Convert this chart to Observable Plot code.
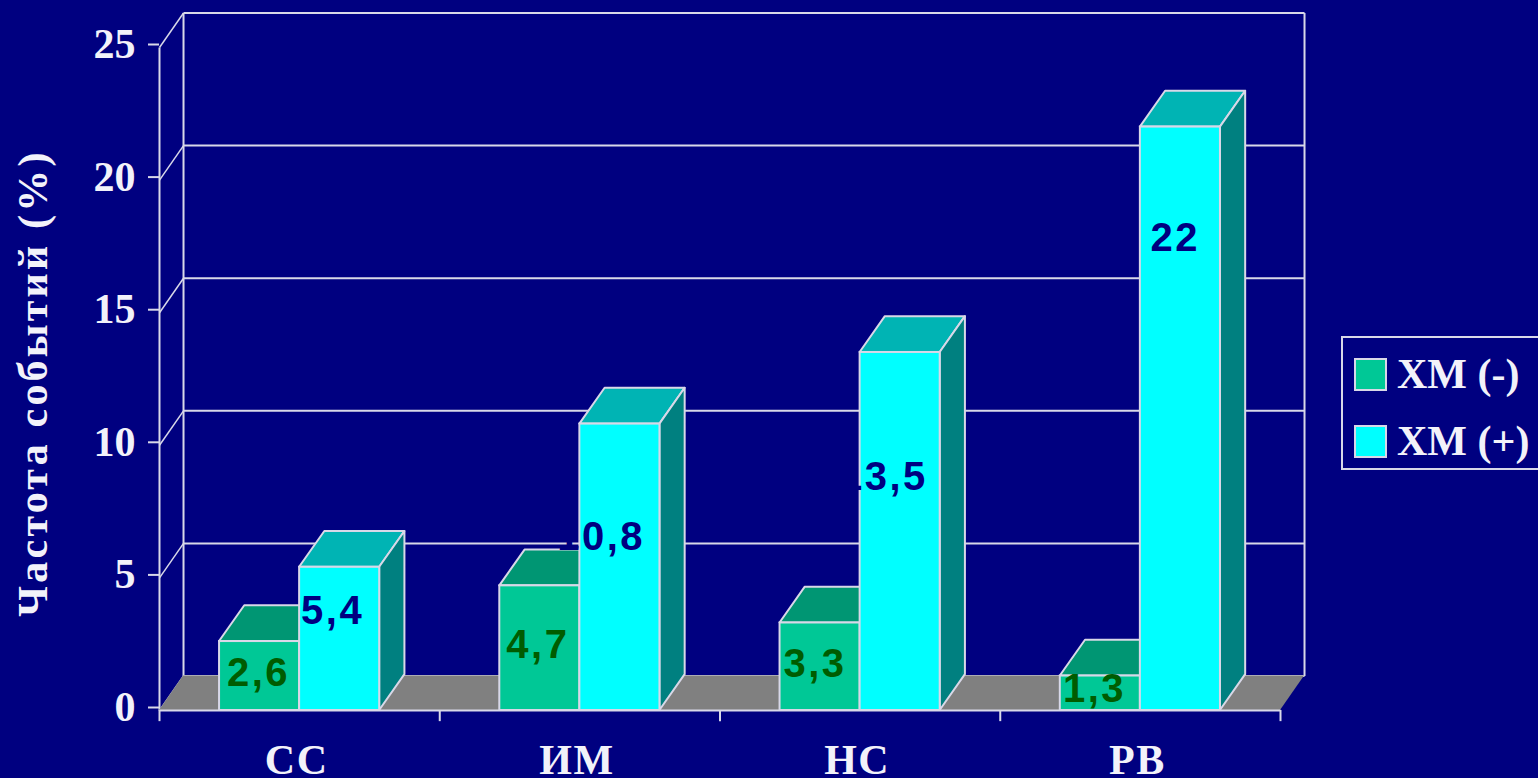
<!DOCTYPE html>
<html lang="ru">
<head>
<meta charset="utf-8">
<title>Частота событий</title>
<script src="https://cdn.jsdelivr.net/npm/d3@7"></script>
<script src="https://cdn.jsdelivr.net/npm/@observablehq/plot@0.6"></script>
<style>
  html, body { margin: 0; padding: 0; background: #000080; overflow: hidden; }
  #chart { position: relative; width: 1538px; height: 778px; }
  #chart svg { display: block; }
  .axis-title { letter-spacing: 3.2px; }
  .category-label { letter-spacing: 1.5px; }
  .value-label { letter-spacing: 2.5px; }
  .legend { position: absolute; left: 1341px; top: 336px; width: 197px; height: 134px; box-sizing: border-box;
            border: 2px solid #d8d8e8; border-right: none; color: #f2f2fa;
            font: bold 42px "Liberation Serif", serif; }
  .legend-row { position: absolute; left: 11px; display: flex; align-items: center; white-space: nowrap; height: 34px; }
  .legend-row i { display: block; width: 29px; height: 29px; border: 2px solid #d8d8e8; margin-right: 10px; }
</style>
</head>
<body>
<div id="chart"></div>
<script>
// Event rate (%) by outcome, without and with the ХМ factor
const categories = ["СС", "ИМ", "НС", "РВ"];
const seriesNames = ["ХМ (-)", "ХМ (+)"];
const valuesWithout = [2.6, 4.7, 3.3, 1.3];
const valuesWith = [5.4, 10.8, 13.5, 22];
const valueLabelsWithout = ["2,6", "4,7", "3,3", "1,3"];
const valueLabelsWith = ["5,4", "10,8", "13,5", "22"];
const yTicks = [0, 5, 10, 15, 20, 25];

// Where the value labels sit inside their bars: height in value units,
// sideways shift from the bar's centre in category units
const labelHeightsWithout = [1.4, 2.45, 1.75, 0.8];
const labelHeightsWith = [3.75, 6.55, 8.8, 17.8];
const labelShiftsWithout = [-0.004, -0.007, -0.018, -0.021];
const labelShiftsWith = [-0.025, -0.067, -0.058, -0.018];

// Oblique projection: depth expressed in the units of each scale
const depthX = 0.0857;
const depthY = 1.3;
const barDepthX = 0.09;
const barDepthY = 1.35;
// Each category slot holds two bars with a gap of one and a half bars
const barWidth = 1 / 3.5;
const barOffset = 0.75 * barWidth;
// Length of the category ticks below the axis, in value units
const tickDrop = 0.42;

const colors = {front: ["#00c896", "#00ffff"], top: ["#009673", "#00b4b4"], side: ["#007a5e", "#008080"]};
const lineColor = "#d8d8e8";
const textColor = "#f2f2fa";
const serif = "Liberation Serif";
const sans = "Liberation Sans";

const bars = categories.flatMap((category, i) => [
  {category, series: 0, value: valuesWithout[i], label: valueLabelsWithout[i],
   labelY: labelHeightsWithout[i], labelShift: labelShiftsWithout[i],
   x0: i + barOffset, x1: i + barOffset + barWidth},
  {category, series: 1, value: valuesWith[i], label: valueLabelsWith[i],
   labelY: labelHeightsWith[i], labelShift: labelShiftsWith[i],
   x0: i + barOffset + barWidth, x1: i + barOffset + 2 * barWidth}
]).map(d => ({...d, name: seriesNames[d.series], id: `${d.category}-${d.series}`}));

// Every parallelogram is an area between two edges, one row per end of the edge pair
const topFaces = bars.flatMap(d => [
  {id: d.id, series: d.series, ax: d.x0, ay: d.value, bx: d.x1, by: d.value},
  {id: d.id, series: d.series, ax: d.x0 + barDepthX, ay: d.value + barDepthY, bx: d.x1 + barDepthX, by: d.value + barDepthY}
]);
const sideFaces = bars.flatMap(d => [
  {id: d.id, series: d.series, ax: d.x1, ay: d.value, bx: d.x1, by: 0},
  {id: d.id, series: d.series, ax: d.x1 + barDepthX, ay: d.value + barDepthY, bx: d.x1 + barDepthX, by: barDepthY}
]);
const slots = categories.length;
const floor = [
  {ax: 0, ay: 0, bx: slots, by: 0},
  {ax: depthX, ay: depthY, bx: slots + depthX, by: depthY}
];

function face(data, fill) {
  return Plot.area(data, {x1: "ax", y1: "ay", x2: "bx", y2: "by", z: "id", fill, stroke: lineColor, strokeWidth: 2});
}

// The labels of the second series share the background's navy, so any part
// of them that falls outside the cyan bar melts into the background
const bodyLabels = series => Plot.text(bars.filter(d => d.series === series), {
  x: d => (d.x0 + d.x1) / 2 + d.labelShift,
  y: "labelY",
  text: "label",
  fill: series ? "#000080" : "#005c00",
  fontFamily: sans, fontWeight: "bold", fontSize: 40, className: "value-label"
});

const plot = Plot.plot({
  width: 1538,
  height: 778,
  marginLeft: 159,
  marginRight: 258,
  marginTop: 47,
  marginBottom: 68,
  style: {background: "#000080", overflow: "visible"},
  x: {domain: [0, slots], axis: null},
  y: {domain: [0, 25]},
  color: {domain: seriesNames, range: colors.front},
  marks: [
    // Back wall and its gridlines, each with a diagonal run to the axis
    Plot.link(yTicks, {x1: depthX, x2: slots + depthX, y1: d => d + depthY, y2: d => d + depthY, stroke: lineColor, strokeWidth: 2}),
    Plot.link(yTicks, {x1: 0, x2: depthX, y1: d => d, y2: d => d + depthY, stroke: lineColor, strokeWidth: 1.5}),
    Plot.link([depthX, slots + depthX], {x1: d => d, x2: d => d, y1: depthY, y2: 25 + depthY, stroke: lineColor, strokeWidth: 2}),
    Plot.link([0], {x1: 0, x2: 0, y1: 0, y2: 25, stroke: lineColor, strokeWidth: 2}),

    // Floor
    Plot.area(floor, {x1: "ax", y1: "ay", x2: "bx", y2: "by", fill: "#808080"}),
    Plot.link([0], {x1: 0, x2: slots, y1: 0, y2: 0, stroke: lineColor, strokeWidth: 2}),

    // Bar bodies: top and side faces first, fronts over them
    face(topFaces.filter(d => d.series === 0), colors.top[0]),
    face(topFaces.filter(d => d.series === 1), colors.top[1]),
    face(sideFaces.filter(d => d.series === 1), colors.side[1]),
    Plot.rect(bars, {x1: "x0", x2: "x1", y1: 0, y2: "value", fill: "name", stroke: lineColor, strokeWidth: 2}),

    // Axes
    Plot.axisY({
      ticks: yTicks, tickSize: 11, tickPadding: 13, label: null, color: textColor, stroke: lineColor,
      strokeWidth: 2, fontFamily: serif, fontWeight: "bold", fontSize: 42, dy: -3
    }),
    Plot.ruleX(d3.range(slots + 1), {x: d => d, y1: 0, y2: -tickDrop, stroke: lineColor, strokeWidth: 2}),
    Plot.text(categories, {
      x: (d, i) => i + 0.5, y: 0, dx: -3, dy: 50, text: d => d, fill: textColor,
      fontFamily: serif, fontWeight: "bold", fontSize: 42, className: "category-label"
    }),
    Plot.text(["Частота событий (%)"], {
      frameAnchor: "left", textAnchor: "middle", dx: -126, dy: 4, rotate: -90, text: d => d, fill: textColor,
      fontFamily: serif, fontWeight: "bold", fontSize: 42, className: "axis-title"
    }),

    // Value labels
    bodyLabels(0),
    bodyLabels(1)
  ]
});
document.getElementById("chart").append(plot);

// Legend beside the plot, with its swatch colours taken from the colour scale
const legend = d3.select("#chart").append("div").attr("class", "legend");
seriesNames.forEach((name, i) => {
  const row = legend.append("div").attr("class", "legend-row").style("top", `${19 + 67 * i}px`);
  row.append("i").style("background", plot.scale("color").apply(name));
  row.append("span").text(name);
});
</script>
</body>
</html>
